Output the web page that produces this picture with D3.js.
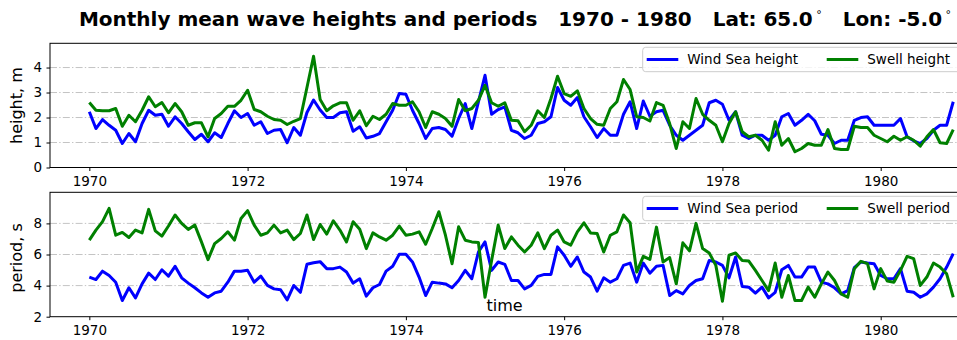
<!DOCTYPE html>
<html>
<head>
<meta charset="utf-8">
<script src="https://cdn.jsdelivr.net/npm/d3@7"></script>
<style>
  html, body { margin: 0; padding: 0; background: #fff; }
  svg { display: block; font-family: "DejaVu Sans", sans-serif; }
  .grid line { stroke: #c4c4c4; stroke-width: 1; stroke-dasharray: 7 2.2 1.4 2.2; }
</style>
</head>
<body>
<svg id="chart" width="957" height="340"></svg>
<script>
// Monthly means, January 1970 .. December 1980
const startYear = 1970;
const monthCount = 132;

const windSeaHeight = [
  2.23,1.56,1.92,1.69,1.49,0.96,1.36,1.03,1.76,2.29,
  2.09,2.13,1.65,2.03,1.76,1.43,1.12,1.33,1.03,1.39,
  1.20,1.76,2.27,2.00,2.16,1.69,1.83,1.36,1.49,1.52,
  0.99,1.60,1.29,2.20,2.70,2.30,2.00,2.00,2.19,2.23,
  1.45,1.63,1.18,1.25,1.36,1.83,2.29,2.96,2.93,2.29,
  1.76,1.16,1.56,1.60,1.52,1.25,1.96,2.56,1.56,2.63,
  3.69,2.13,2.32,2.43,1.49,1.39,1.16,1.29,1.76,1.83,
  2.03,3.20,2.69,2.49,2.80,2.03,1.63,1.20,1.56,1.29,
  1.29,2.13,2.63,1.56,2.66,2.05,2.23,2.29,1.69,1.29,
  1.09,1.29,1.49,1.69,2.59,2.69,2.53,1.89,2.23,1.29,
  1.16,1.29,1.29,1.09,1.29,2.03,2.16,1.69,1.89,2.13,
  1.87,1.33,1.29,0.96,1.09,1.09,1.89,2.00,2.03,1.69,
  1.69,1.69,1.69,1.96,1.23,1.07,0.96,1.16,1.49,1.69,
  1.69,2.63
];
const swellHeight = [
  2.60,2.29,2.27,2.27,2.36,1.65,2.09,1.83,2.29,2.83,
  2.43,2.60,2.19,2.56,2.23,1.69,1.79,1.79,1.23,1.96,
  2.16,2.45,2.45,2.69,3.09,2.32,2.23,2.05,1.92,1.89,
  1.72,1.85,1.96,3.20,4.45,2.72,2.27,2.47,2.59,2.59,
  1.89,2.27,1.67,2.05,1.92,2.13,2.56,2.49,2.49,2.63,
  2.23,1.60,2.23,2.13,1.96,1.65,2.72,2.27,2.36,2.69,
  3.29,2.59,2.45,2.59,1.89,1.87,1.43,1.69,2.27,2.00,
  2.76,3.65,2.96,2.85,3.07,2.36,1.96,1.73,1.69,2.36,
  2.63,3.52,3.12,2.03,2.00,1.86,2.60,2.49,1.76,0.76,
  1.83,1.56,2.76,2.13,1.89,1.69,1.03,1.76,2.23,1.43,
  1.23,1.29,1.09,0.69,1.83,0.89,1.16,0.63,0.76,0.96,
  0.89,0.89,1.52,0.76,0.72,0.72,1.65,1.60,1.60,1.29,
  1.16,1.03,1.25,1.09,1.23,1.09,0.85,1.23,1.52,0.99,
  0.96,1.52
];
const windSeaPeriod = [
  4.55,4.39,4.93,4.65,4.22,3.04,3.86,3.21,4.11,4.80,
  4.39,5.02,4.61,5.24,4.50,4.16,3.86,3.53,3.25,3.53,
  3.64,4.22,4.93,4.93,4.98,4.22,4.61,4.01,3.79,3.73,
  3.08,4.01,3.57,5.37,5.47,5.54,5.09,5.09,5.19,4.87,
  4.16,4.44,3.32,3.86,4.07,4.93,5.24,6.01,6.01,5.52,
  4.55,3.36,4.22,4.16,4.11,3.86,4.33,4.98,4.44,6.16,
  6.81,4.98,5.52,5.37,4.33,4.33,3.79,4.01,4.59,4.72,
  4.72,6.49,5.95,5.24,5.84,4.87,4.55,3.64,4.50,4.22,
  4.44,5.30,5.45,4.22,5.45,4.80,5.25,5.30,3.36,3.68,
  3.47,4.01,4.33,4.44,5.62,5.52,5.30,4.50,5.84,3.94,
  3.90,3.51,3.90,3.21,3.57,5.02,5.30,4.55,4.55,5.19,
  5.19,4.22,4.11,3.86,3.47,3.68,5.15,5.52,5.45,5.41,
  4.65,4.44,4.44,5.09,3.64,3.57,3.25,3.47,3.90,4.44,
  5.19,6.06
];
const swellPeriod = [
  6.92,7.57,8.11,8.97,7.24,7.42,7.09,7.57,7.39,8.90,
  7.52,7.18,7.83,8.54,8.00,7.61,7.89,6.81,5.67,6.70,
  7.03,7.46,6.92,8.32,8.82,7.89,7.24,7.39,7.89,7.39,
  7.57,6.96,7.35,8.54,6.96,7.93,7.31,8.17,7.57,6.81,
  8.11,7.62,6.38,7.39,7.13,6.92,7.24,7.83,7.24,7.31,
  7.46,6.66,7.67,8.75,7.24,5.41,7.78,6.92,6.81,6.77,
  3.25,5.62,7.89,6.38,7.13,6.60,6.16,6.60,7.39,6.38,
  7.24,7.57,6.81,6.60,7.46,8.04,7.39,7.35,6.16,7.24,
  7.46,8.54,8.04,4.87,5.88,5.68,7.76,5.52,5.80,4.11,
  6.75,6.23,8.00,6.38,6.10,5.30,2.99,5.95,6.10,5.62,
  5.58,4.98,4.33,3.68,5.45,3.25,4.65,3.04,3.04,3.90,
  3.25,4.11,4.87,4.33,3.47,3.25,5.09,5.56,5.41,3.79,
  5.09,4.29,4.22,4.98,5.88,5.73,4.01,4.55,5.45,5.19,
  4.76,3.25
];

const yearTicks = [1970, 1972, 1974, 1976, 1978, 1980];
const heightTicks = [0, 1, 2, 3, 4];
const periodTicks = [2, 4, 6, 8];

const titleParts = ["Monthly mean wave heights and periods   1970 - 1980   Lat: 65.0", "   Lon: -5.0"];

// decimal-year position of each month
const months = d3.range(monthCount).map(i => startYear + i / 12);

const svg = d3.select("#chart");

const left = 50, right = 999.4;
const x = d3.scaleLinear().domain([1969.503, 1981.5]).range([left, right]);

const panels = [
  {
    top: 43.3, bottom: 167.5, domain: [0, 4.97], ticks: heightTicks,
    label: "height, m", labelCenter: 105.6,
    series: [
      { name: "Wind Sea height", values: windSeaHeight, color: "#0000ff" },
      { name: "Swell height", values: swellHeight, color: "#008000" }
    ]
  },
  {
    top: 192.3, bottom: 316.7, domain: [2, 10], ticks: periodTicks,
    label: "period, s", labelCenter: 258,
    series: [
      { name: "Wind Sea period", values: windSeaPeriod, color: "#0000ff" },
      { name: "Swell period", values: swellPeriod, color: "#008000" }
    ]
  }
];

const clipId = (k) => "clip" + k;

panels.forEach((p, k) => {
  const y = d3.scaleLinear().domain(p.domain).range([p.bottom, p.top]);
  const g = svg.append("g");

  g.append("clipPath").attr("id", clipId(k))
    .append("rect").attr("x", left).attr("y", p.top)
    .attr("width", right - left).attr("height", p.bottom - p.top);

  // horizontal dash-dot grid
  g.append("g").attr("class", "grid")
    .selectAll("line").data(p.ticks.filter(t => t > p.domain[0]))
    .join("line")
    .attr("x1", left).attr("x2", right)
    .attr("y1", d => y(d)).attr("y2", d => y(d));

  // series lines
  const line = d3.line().x((d, i) => x(months[i])).y(d => y(d));
  g.append("g").attr("clip-path", `url(#${clipId(k)})`)
    .selectAll("path").data(p.series).join("path")
    .attr("d", s => line(s.values))
    .attr("fill", "none")
    .attr("stroke", s => s.color)
    .attr("stroke-width", 3)
    .attr("stroke-linejoin", "round");

  // frame
  g.append("rect").attr("x", left).attr("y", p.top)
    .attr("width", right - left).attr("height", p.bottom - p.top)
    .attr("fill", "none").attr("stroke", "#000").attr("stroke-width", 1);

  // axes
  const xAxis = d3.axisBottom(x).tickValues(yearTicks).tickFormat(d3.format("d"))
    .tickSize(3.5).tickPadding(5).tickSizeOuter(0);
  const xg = g.append("g").attr("transform", `translate(0,${p.bottom})`).call(xAxis);
  const yAxis = d3.axisLeft(y).tickValues(p.ticks).tickFormat(d3.format("d"))
    .tickSize(3.5).tickPadding(4.5).tickSizeOuter(0);
  const yg = g.append("g").attr("transform", `translate(${left},0)`).call(yAxis);
  [xg, yg].forEach(a => {
    a.select(".domain").remove();
    a.selectAll("text").attr("font-size", 13.5).attr("font-family", "DejaVu Sans").attr("fill", "#000");
    a.selectAll("line").attr("stroke", "#000");
  });

  // y label
  svg.append("text")
    .attr("transform", `translate(22,${p.labelCenter}) rotate(-90)`)
    .attr("text-anchor", "middle")
    .attr("font-size", 16)
    .text(p.label);

  // legend
  const ly = p.top + 4;
  const lg = svg.append("g").attr("transform", `translate(0,${ly})`);
  lg.append("rect").attr("x", 642.7).attr("y", 0).attr("width", 320).attr("height", 24.4)
    .attr("rx", 3).attr("fill", "#fff").attr("fill-opacity", 0.8)
    .attr("stroke", "#cccccc").attr("stroke-width", 1);
  const handleX = [646.7, 826.7];
  p.series.forEach((s, j) => {
    lg.append("line").attr("x1", handleX[j]).attr("x2", handleX[j] + 31.6)
      .attr("y1", 12.2).attr("y2", 12.2)
      .attr("stroke", s.color).attr("stroke-width", 3);
    lg.append("text").attr("x", handleX[j] + 40.6).attr("y", 17)
      .attr("font-size", 13.5).text(s.name);
  });
});

// shared time label
svg.append("text").attr("x", 504.5).attr("y", 311)
  .attr("text-anchor", "middle").attr("font-size", 16).text("time");

// title
const title = svg.append("text").attr("x", 515).attr("y", 26)
  .attr("text-anchor", "middle").attr("font-size", 20).attr("font-weight", "bold")
  .style("white-space", "pre");
title.append("tspan").text(titleParts[0]);
title.append("tspan").attr("font-size", 11).attr("font-weight", "normal").attr("dy", -8.5).text(" \u00b0");
title.append("tspan").attr("dy", 8.5).text(titleParts[1]);
title.append("tspan").attr("font-size", 11).attr("font-weight", "normal").attr("dy", -8.5).text(" \u00b0");
</script>
</body>
</html>
